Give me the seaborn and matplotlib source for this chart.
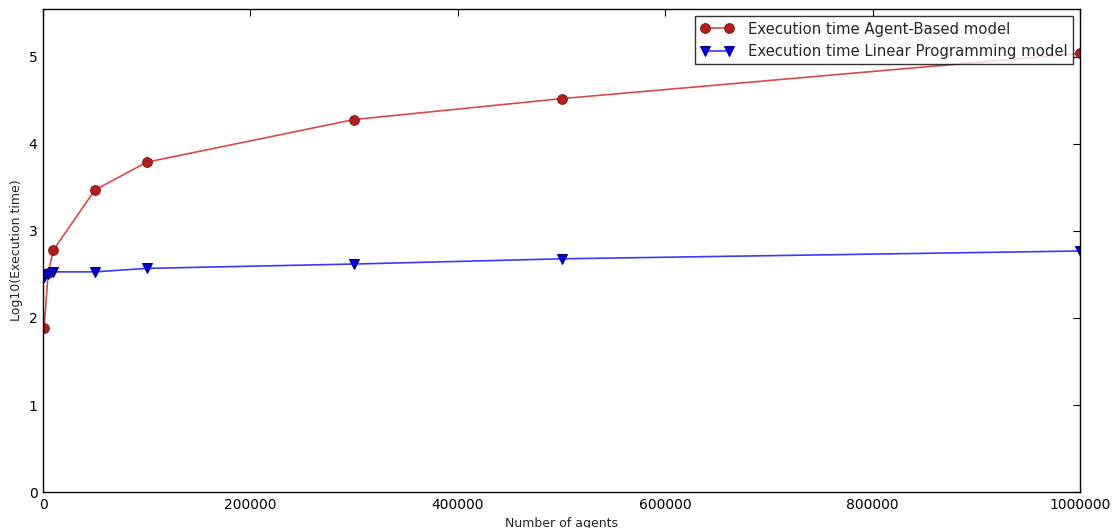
import pandas as pd
import seaborn as sns
import matplotlib
matplotlib.use("Agg")
import matplotlib.pyplot as plt

# number of agents used in each run
agents = [1000, 5000, 10000, 50000, 100000, 300000, 500000, 1000000]

# log10 of execution time
abm_time = [1.885, 2.52, 2.78, 3.47, 3.79, 4.28, 4.52, 5.04]
lp_time = [2.47, 2.50, 2.53, 2.53, 2.57, 2.62, 2.68, 2.77]

df = pd.DataFrame({"agents": agents, "abm": abm_time, "lp": lp_time})

sns.set_style("white")
plt.rcParams["font.family"] = ["DejaVu Sans"]
plt.rcParams["xtick.direction"] = "in"
plt.rcParams["ytick.direction"] = "in"

fig = plt.figure(figsize=(11.14, 5.28), dpi=100)
ax = fig.add_axes([0.0386, 0.068, 0.931, 0.915])

sns.lineplot(data=df, x="agents", y="abm", ax=ax, color="#d94a4a", linewidth=1.2,
             marker="o", markersize=7, markerfacecolor="#b01e1e", markeredgecolor="#8a1a1a",
             label="Execution time Agent-Based model")
sns.lineplot(data=df, x="agents", y="lp", ax=ax, color="#3a3aff", linewidth=1.2,
             marker="v", markersize=7, markerfacecolor="#0000cc", markeredgecolor="#00008a",
             label="Execution time Linear Programming model")

ax.set_xlim(0, 1000000)
ax.set_ylim(0, 5.55)
ax.set_xticks([0, 200000, 400000, 600000, 800000, 1000000])
ax.set_xticklabels(["0", "200000", "400000", "600000", "800000", "1000000"])
ax.set_yticks([0, 1, 2, 3, 4, 5])
ax.tick_params(axis="both", which="both", top=True, right=True, length=5, width=0.8,
               labelsize=10, colors="black", pad=4)
for s in ax.spines.values():
    s.set_color("black")
    s.set_linewidth(1)

ax.set_xlabel("Number of agents", fontsize=9)
ax.set_ylabel("Log10(Execution time)", fontsize=9)

leg = ax.legend(loc="upper right", numpoints=2, fontsize=10.7, fancybox=False,
                frameon=True, borderaxespad=0.5, handlelength=2.2, handletextpad=1.0,
                borderpad=0.35)
leg.get_frame().set_edgecolor("black")
leg.get_frame().set_linewidth(1)

plt.savefig("out.png", dpi=100)
